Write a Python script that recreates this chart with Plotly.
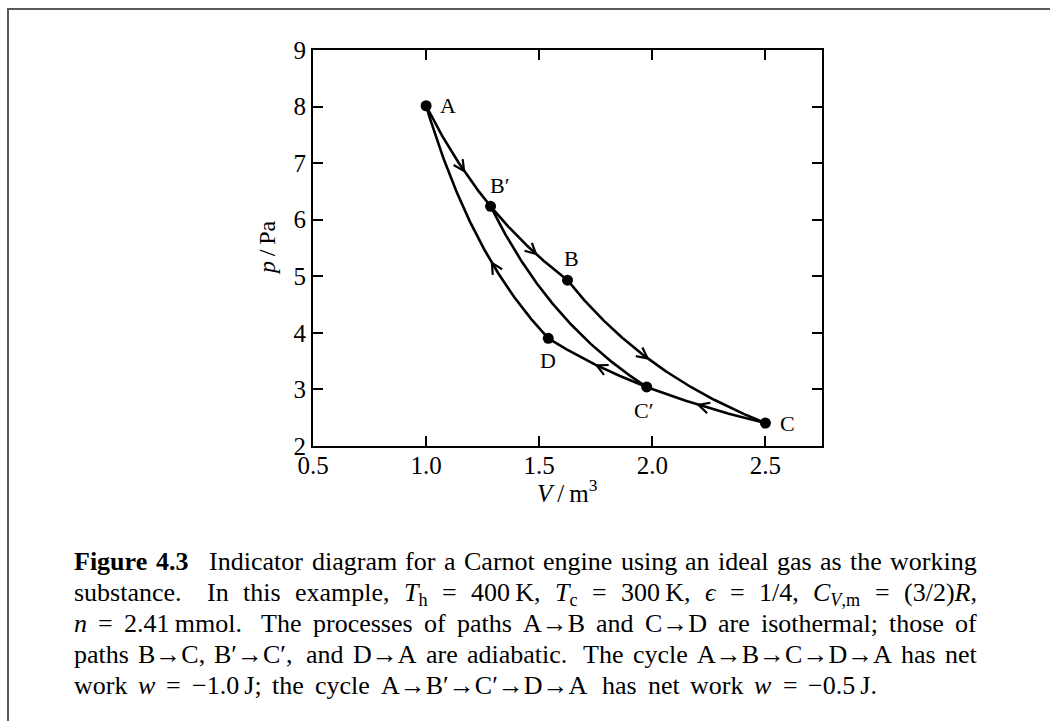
import re
import numpy as np
import plotly.graph_objects as go

# Cycle parameters (from the caption)
T_HOT = 400.0      # K
T_COLD = 300.0     # K
N_MOL = 2.41e-3    # mol
R_GAS = 8.314      # J/(mol K)

# State points: volume (m^3) and reservoir temperature
state_names = ["A", "B", "C", "D", "B′", "C′"]
state_V = [1.00, 1.625, 2.50, 1.54, 1.285, 1.975]
state_T = [T_HOT, T_HOT, T_COLD, T_COLD, T_HOT, T_COLD]

# Paths of the indicator diagram: (start, end, process)
path_start = ["A", "B′", "B", "C", "C′", "D", "B′"]
path_end = ["B′", "B", "C", "C′", "D", "A", "C′"]
path_kind = ["iso", "iso", "adi", "iso", "iso", "adi", "adi"]

# Direction arrows: path index and volume where the arrowhead sits
arrow_path = [0, 1, 2, 3, 4, 5]
arrow_V = [1.158, 1.473, 1.965, 2.221, 1.77, 1.30]

# Label offsets (px) of the state letters from their points
label_dx = [22, 4, 22, 0, 9, -3]
label_dy = [0, 22, 0, -22, 21, -24]

x_ticks = [0.5, 1.0, 1.5, 2.0, 2.5]
y_ticks = [2, 3, 4, 5, 6, 7, 8, 9]
X_RANGE = [0.5, 2.75]
Y_RANGE = [2, 9]

# caption, one string per printed line (double/triple spaces = wider gaps)
caption_lines = [
    "<b>Figure</b> <b>4.3</b>   Indicator diagram for a Carnot engine using an ideal gas as the working",
    "substance.  In this example, <i>T</i><sub>h</sub> = 400\u2009K, <i>T</i><sub>c</sub> = 300\u2009K, "
    "<i>ϵ</i> = 1/4, <i>C</i><sub><i>V</i>,m</sub> = (3/2)<i>R</i>,",
    "<i>n</i> = 2.41\u2009mmol.  The processes of paths A→B and C→D are isothermal; those of",
    "paths B→C, B′→C′, and D→A are adiabatic.  The cycle A→B→C→D→A has net",
    "work <i>w</i> = −1.0\u2009J; the cycle A→B′→C′→D→A has net work <i>w</i> = −0.5\u2009J.",
]
caption_left = 72
caption_right = [975, 975, 975, 975, 875]
caption_baseline = [572, 603, 634, 665, 696]

W, H = 1050, 721
ML, MR, MT, MB = 313, 228, 50, 275
PLOT_W = W - ML - MR
PLOT_H = H - MT - MB
SX = PLOT_W / (X_RANGE[1] - X_RANGE[0])
SY = PLOT_H / (Y_RANGE[1] - Y_RANGE[0])

SERIF = "Liberation Serif, Times New Roman, serif"
CAP_SIZE = 26

idx = {n: i for i, n in enumerate(state_names)}
state_p = [N_MOL * R_GAS * T / V for V, T in zip(state_V, state_T)]


def path_fn(k):
    i, j = idx[path_start[k]], idx[path_end[k]]
    V1, p1 = state_V[i], state_p[i]
    V2, p2 = state_V[j], state_p[j]
    if path_kind[k] == "iso":
        c = N_MOL * R_GAS * state_T[i]
        f = lambda V: c / V
    else:
        # reversible adiabat p V^gamma = const through both end states
        g = np.log(p1 / p2) / np.log(V2 / V1)
        f = lambda V: p1 * (V1 / V) ** g
    return V1, V2, f


fig = go.Figure()

# curves
for k in range(len(path_start)):
    V1, V2, f = path_fn(k)
    Vs = np.linspace(V1, V2, 200)
    fig.add_trace(go.Scatter(x=Vs, y=f(Vs), mode="lines",
                             line=dict(color="black", width=2.6),
                             hoverinfo="skip", showlegend=False))

# open chevron arrowheads along the paths
to_px = lambda V, p: ((V - X_RANGE[0]) * SX, (Y_RANGE[1] - p) * SY)
to_data = lambda x, y: (x / SX + X_RANGE[0], Y_RANGE[1] - y / SY)
ax_x, ax_y = [], []
L, TH = 12.0, np.radians(27)
for k, Va in zip(arrow_path, arrow_V):
    V1, V2, f = path_fn(k)
    s = 1.0 if V2 > V1 else -1.0
    h = 1e-3
    xa, ya = to_px(Va - s * h, f(Va - s * h))
    xb, yb = to_px(Va + s * h, f(Va + s * h))
    dx, dy = xb - xa, yb - ya
    n = np.hypot(dx, dy)
    dx, dy = dx / n, dy / n
    tx, ty = to_px(Va, f(Va))
    tx, ty = tx + 4 * dx, ty + 4 * dy
    for sgn in (1, -1):
        c, sn = np.cos(TH), sgn * np.sin(TH)
        bx = tx - L * (c * dx - sn * dy)
        by = ty - L * (sn * dx + c * dy)
        p0 = to_data(bx, by)
        p1 = to_data(tx, ty)
        ax_x += [p0[0], p1[0], None]
        ax_y += [p0[1], p1[1], None]
fig.add_trace(go.Scatter(x=ax_x, y=ax_y, mode="lines",
                         line=dict(color="black", width=2.2),
                         hoverinfo="skip", showlegend=False))

# state points
fig.add_trace(go.Scatter(x=state_V, y=state_p, mode="markers",
                         marker=dict(color="black", size=11),
                         hoverinfo="skip", showlegend=False))

for name, V, p, dx, dy in zip(state_names, state_V, state_p, label_dx, label_dy):
    fig.add_annotation(x=V, y=p, xref="x", yref="y", text=name, showarrow=False,
                       xshift=dx, yshift=dy,
                       font=dict(family=SERIF, size=22, color="black"))

axis_common = dict(showline=True, linecolor="black", linewidth=2, mirror="ticks",
                   ticks="inside", ticklen=10, tickwidth=1.5, tickcolor="black",
                   showgrid=False, zeroline=False,
                   tickfont=dict(family=SERIF, size=25, color="black"))

fig.update_xaxes(range=X_RANGE, tickvals=x_ticks, ticklabelstandoff=-4,
                 ticktext=[f"{v:.1f}" for v in x_ticks], **axis_common)
fig.update_yaxes(range=Y_RANGE, tickvals=y_ticks,
                 ticktext=[str(v) for v in y_ticks], **axis_common)

# axis titles
fig.add_annotation(x=0.5, y=0, xref="paper", yref="paper", yanchor="middle",
                   yshift=-45, showarrow=False,
                   text="<i>V</i>\u2009/\u2009m<sup>3</sup>",
                   font=dict(family=SERIF, size=25, color="black"))
fig.add_annotation(x=0, y=0.5, xref="paper", yref="paper", xanchor="center",
                   xshift=-46, showarrow=False, text="<i>p</i>\u2009/\u2009Pa", textangle=-90,
                   font=dict(family=SERIF, size=24, color="black"))

# ---- justified caption: words spread evenly between the margins ----
# advance widths (1/1000 em) of the serif face
_ROMAN = dict(zip("abcdefghijklmnopqrstuvwxyz",
                  [444, 500, 444, 500, 444, 333, 500, 500, 278, 278, 500, 278, 778,
                   500, 500, 500, 500, 333, 389, 278, 500, 500, 722, 500, 500, 444]))
_ROMAN.update(zip("ABCDEFGHIJKLMNOPQRSTUVWXYZ",
                  [722, 667, 667, 722, 611, 556, 722, 722, 333, 389, 722, 611, 889,
                   722, 722, 556, 722, 667, 556, 611, 722, 722, 944, 722, 722, 611]))
_ROMAN.update({c: 500 for c in "0123456789"})
_ROMAN.update({".": 250, ",": 250, ";": 278, ":": 278, "(": 333, ")": 333, "/": 278,
               "=": 564, "−": 564, "→": 1000, "′": 300, "ϵ": 420, "\u2009": 200})
_ITALIC = {"T": 556, "C": 667, "V": 611, "R": 611, "n": 500, "w": 667}
_BOLD = {"F": 611, "u": 556, "r": 444}


def text_width(html, size):
    total, scale, italic, bold = 0.0, 1.0, False, False
    for tok in re.split(r"(<[^>]+>)", html):
        if tok.startswith("<"):
            tag = tok.strip("</>")
            on = not tok.startswith("</")
            if tag == "sub":
                scale = 0.7 if on else 1.0
            elif tag == "i":
                italic = on
            elif tag == "b":
                bold = on
            continue
        for ch in tok:
            w = _ROMAN.get(ch, 500)
            if italic:
                w = _ITALIC.get(ch, w)
            if bold:
                w = _BOLD.get(ch, w)
            total += w * scale
    return total / 1000.0 * size


def words_and_gaps(line):
    words, weights, wgt = [], [], 1.0
    for tok in line.split(" "):
        if tok == "":
            wgt += 0.75
            continue
        if words:
            weights.append(wgt)
        words.append(tok)
        wgt = 1.0
    return words, weights


to_paper_x = lambda px: (px - ML) / PLOT_W
for line, right, base in zip(caption_lines, caption_right, caption_baseline):
    words, weights = words_and_gaps(line)
    widths = [text_width(w, CAP_SIZE) for w in words]
    unit = (right - caption_left - sum(widths)) / sum(weights)
    top = base - 1.05 * CAP_SIZE
    x = caption_left
    for i, (word, wd) in enumerate(zip(words, widths)):
        fig.add_annotation(x=to_paper_x(x), y=(MT + PLOT_H - top) / PLOT_H,
                           xref="paper", yref="paper",
                           xanchor="left", yanchor="top",
                           showarrow=False, text=word,
                           font=dict(family=SERIF, size=CAP_SIZE, color="black"))
        if i < len(weights):
            x += wd + unit * weights[i]

# page frame (open to the right and bottom)
fx0 = (8 - ML) / PLOT_W
fy1 = (MT + PLOT_H - 9) / PLOT_H
fx1 = (W + 20 - ML) / PLOT_W
fy0 = (MT + PLOT_H - (H + 20)) / PLOT_H
fig.add_shape(type="rect", xref="paper", yref="paper", x0=fx0, x1=fx1, y0=fy0, y1=fy1,
              line=dict(color="#5a5a5a", width=2), layer="below")

fig.update_layout(width=W, height=H, margin=dict(l=ML, r=MR, t=MT, b=MB),
                  paper_bgcolor="white", plot_bgcolor="white", showlegend=False)

fig.write_html("out.html", config={"displayModeBar": False})
